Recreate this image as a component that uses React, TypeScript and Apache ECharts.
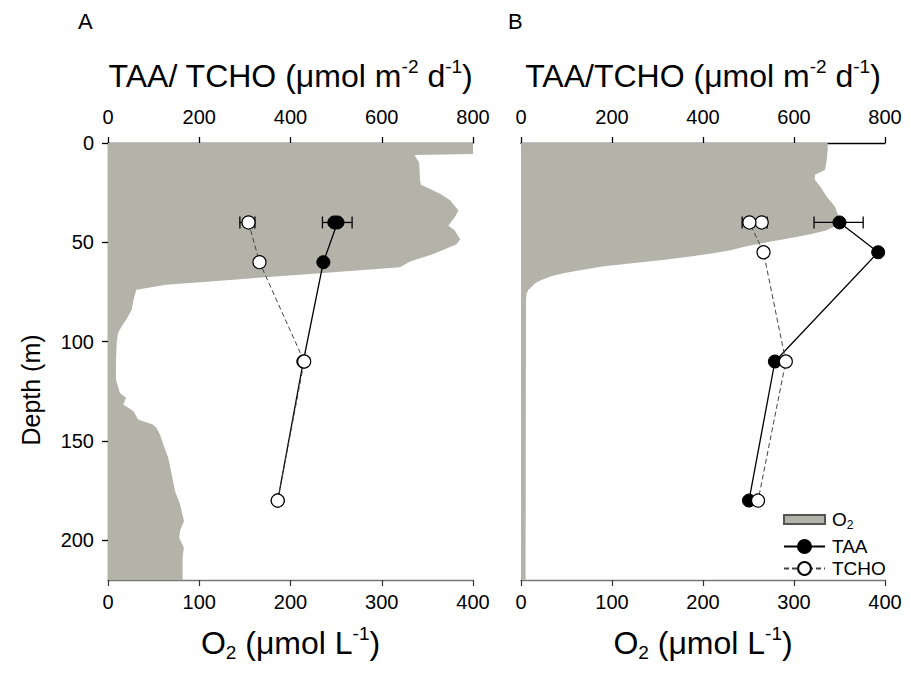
import React, { useEffect, useRef } from 'react';
import * as echarts from 'echarts';

// ---------- data ----------
const depthTicks = [0, 50, 100, 150, 200];
const fluxTicks = [0, 200, 400, 600, 800];
const o2Ticks = [0, 100, 200, 300, 400];

// O2 profile, panel A (depth m, O2 umol/L)
const o2DepthA = [0, 5.5, 6, 10, 19, 21, 25.5, 28.8, 34, 37.4, 41.5, 44, 48.4, 51, 56, 59.6, 62.6, 66.3, 68.8, 71.4, 73.9, 78.9, 83.9, 88.9, 92.3, 95.6, 100.7, 110.7, 119.1, 125.8, 128.3, 131.7, 135, 139.2, 141.7, 143.4, 146.7, 151.8, 158.5, 166.8, 175.2, 181.9, 190.3, 195.3, 198.7, 203.7, 208.7, 220];
const o2ValueA = [400, 400, 336, 341, 342, 343, 364, 375, 384, 380, 373, 380, 386, 382, 356, 331, 320, 210, 137, 64, 31, 28, 26, 20, 15, 11, 9.5, 8.7, 8.7, 13, 19.7, 16.8, 28, 33, 49, 53, 57, 60.6, 66, 69.8, 73.4, 78.9, 83.3, 78.9, 78, 83, 81.8, 81.8];

// O2 profile, panel B
const o2DepthB = [0, 3.5, 8.5, 13.6, 16, 18.6, 22, 27, 32, 37, 42, 44, 46, 48, 50, 52, 54, 55.4, 57, 58.8, 60.5, 62.2, 64, 65.5, 67, 68.8, 70.5, 72.2, 74, 76, 80, 220];
const o2ValueB = [337, 337, 336, 334, 323, 323, 329, 336, 345, 349, 345, 335, 318, 295, 270, 248, 230, 213, 188, 158, 122, 89, 65, 48, 34, 23, 16, 12, 8, 6, 5.5, 5];

// TAA / TCHO fluxes (umol m-2 d-1)
const taaDepthA = [40, 40, 60, 110, 180];
const taaA = [496, 503, 472, 428, 372];
const tchoDepthA = [40, 60, 110, 180];
const tchoA = [308, 332, 430, 372];

const taaDepthB = [40, 55, 110, 180];
const taaB = [700, 785, 558, 501];
const tchoDepthB = [40, 40, 55, 110, 180];
const tchoB = [529, 502, 533, 582, 521];

// error bars (depth, low, high)
const errDepthA = [40, 40];
const errLowA = [470, 289];
const errHighA = [535, 322];
const errDepthB = [40, 40];
const errLowB = [644, 486];
const errHighB = [752, 541];

// ---------- styles ----------
const FONT = 'Liberation Sans, Arial, sans-serif';
const GRAY = '#b4b3a9';

const nameRich = {
  t: { fontSize: 32, lineHeight: 38, color: '#000', fontFamily: FONT },
  sup: { fontSize: 19, lineHeight: 19, verticalAlign: 'top', color: '#000', fontFamily: FONT },
  sub: { fontSize: 19, lineHeight: 19, verticalAlign: 'bottom', color: '#000', fontFamily: FONT },
};

function profileSeries(name: string, gridIdx: number, depths: number[], vals: number[]) {
  return {
    type: 'custom',
    name,
    xAxisIndex: gridIdx * 2 + 1,
    yAxisIndex: gridIdx,
    clip: true,
    z: 1,
    silent: true,
    itemStyle: { color: GRAY, borderColor: '#555', borderWidth: 1 },
    data: [[0, 0]],
    renderItem: (params: any, api: any) => {
      const pts: number[][] = [];
      pts.push(api.coord([0, depths[0]]));
      for (let i = 0; i < depths.length; i++) pts.push(api.coord([vals[i], depths[i]]));
      pts.push(api.coord([0, depths[depths.length - 1]]));
      return { type: 'polygon', shape: { points: pts }, style: { fill: GRAY, stroke: null } };
    },
  };
}

function errSeries(gridIdx: number, d: number[], lo: number[], hi: number[]) {
  return {
    type: 'custom',
    xAxisIndex: gridIdx * 2,
    yAxisIndex: gridIdx,
    z: 3,
    silent: true,
    encode: { x: [1, 2], y: 0 },
    data: d.map((v, i) => [v, lo[i], hi[i]]),
    renderItem: (params: any, api: any) => {
      const dep = api.value(0);
      const p1 = api.coord([api.value(1), dep]);
      const p2 = api.coord([api.value(2), dep]);
      const h = 6;
      const st = { stroke: '#000', lineWidth: 1.3 };
      return {
        type: 'group',
        children: [
          { type: 'line', shape: { x1: p1[0], y1: p1[1], x2: p2[0], y2: p2[1] }, style: st },
          { type: 'line', shape: { x1: p1[0], y1: p1[1] - h, x2: p1[0], y2: p1[1] + h }, style: st },
          { type: 'line', shape: { x1: p2[0], y1: p2[1] - h, x2: p2[0], y2: p2[1] + h }, style: st },
        ],
      };
    },
  };
}

function taaSeries(gridIdx: number, d: number[], v: number[]) {
  return {
    type: 'line',
    name: 'TAA',
    xAxisIndex: gridIdx * 2,
    yAxisIndex: gridIdx,
    z: 4,
    symbol: 'circle',
    symbolSize: 13,
    lineStyle: { color: '#000', width: 1.3 },
    itemStyle: { color: '#000', borderColor: '#000', borderWidth: 1 },
    data: d.map((dep, i) => [v[i], dep]),
  };
}

function tchoSeries(gridIdx: number, d: number[], v: number[]) {
  return {
    type: 'line',
    name: 'TCHO',
    xAxisIndex: gridIdx * 2,
    yAxisIndex: gridIdx,
    z: 5,
    symbol: 'circle',
    symbolSize: 13,
    lineStyle: { color: '#444', width: 1, type: [5, 3] },
    itemStyle: { color: '#fff', borderColor: '#000', borderWidth: 1.2 },
    data: d.map((dep, i) => [v[i], dep]),
  };
}

function topAxis(gridIndex: number, title: string) {
  return {
    type: 'value',
    gridIndex,
    position: 'top',
    min: 0,
    max: 800,
    interval: 200,
    splitLine: { show: false },
    axisLine: { show: true, lineStyle: { color: '#000', width: 1.3 } },
    axisTick: { show: true, inside: false, length: 6, lineStyle: { color: '#000', width: 1.3 } },
    axisLabel: { fontSize: 20, color: '#000', margin: 16, fontFamily: FONT, customValues: fluxTicks },
    name: title,
    nameLocation: 'middle',
    nameGap: 48,
    nameMoveOverlap: false,
    nameTextStyle: { rich: nameRich },
  };
}

function bottomAxis(gridIndex: number) {
  return {
    type: 'value',
    gridIndex,
    position: 'bottom',
    min: 0,
    max: 400,
    interval: 100,
    splitLine: { show: false },
    axisLine: { show: true, onZero: false, lineStyle: { color: '#777', width: 1.3 } },
    axisTick: { show: true, inside: false, length: 6, lineStyle: { color: '#333', width: 1.2 } },
    axisLabel: { fontSize: 20, color: '#000', margin: 12, fontFamily: FONT, customValues: o2Ticks },
    name: '{t|O}{sub|2}{t| (μmol L}{sup|-1}{t|)}',
    nameLocation: 'middle',
    nameGap: 44,
    nameMoveOverlap: false,
    nameTextStyle: { rich: nameRich },
  };
}

const option: any = {
  animation: false,
  backgroundColor: '#fff',
  textStyle: { fontFamily: FONT },
  grid: [
    { left: 108, top: 143, width: 365, height: 437, outerBoundsMode: 'none', containLabel: false },
    { left: 521, top: 143, width: 364, height: 437, outerBoundsMode: 'none', containLabel: false },
  ],
  xAxis: [
    topAxis(0, '{t|TAA/ TCHO (μmol m}{sup|-2}{t| d}{sup|-1}{t|)}'),
    bottomAxis(0),
    topAxis(1, '{t|TAA/TCHO (μmol m}{sup|-2}{t| d}{sup|-1}{t|)}'),
    bottomAxis(1),
  ],
  yAxis: [
    {
      type: 'value',
      gridIndex: 0,
      inverse: true,
      min: 0,
      max: 220,
      interval: 50,
      splitLine: { show: false },
      axisLine: { show: true, onZero: false, lineStyle: { color: '#000', width: 1.3 } },
      axisTick: { show: true, length: 6, customValues: depthTicks, lineStyle: { color: '#000', width: 1.3 } },
      axisLabel: { fontSize: 20, color: '#000', margin: 14, fontFamily: FONT, customValues: depthTicks },
    },
    {
      type: 'value',
      gridIndex: 1,
      inverse: true,
      min: 0,
      max: 220,
      interval: 50,
      splitLine: { show: false },
      axisLine: { show: false },
      axisTick: { show: false },
      axisLabel: { show: false },
    },
  ],
  legend: [
    {
      data: [{ name: 'O2', icon: 'rect' }],
      left: 778, top: 505, itemWidth: 41, itemHeight: 9,
      selectedMode: false,
      formatter: () => '{a|O}{s|2}',
      textStyle: {
        padding: [0, 0, 0, 2],
        rich: {
          a: { fontSize: 19, lineHeight: 22, color: '#000', fontFamily: FONT },
          s: { fontSize: 12, lineHeight: 12, verticalAlign: 'bottom', color: '#000', fontFamily: FONT },
        },
      },
    },
    {
      data: ['TAA'],
      left: 778, top: 532, itemWidth: 41, itemHeight: 16,
      selectedMode: false,
      textStyle: { fontSize: 19, color: '#000', padding: [0, 0, 0, 2], fontFamily: FONT },
    },
    {
      data: ['TCHO'],
      left: 778, top: 554, itemWidth: 41, itemHeight: 16,
      selectedMode: false,
      textStyle: { fontSize: 19, color: '#000', padding: [0, 0, 0, 2], fontFamily: FONT },
    },
  ],
  graphic: [
    { type: 'text', left: 78, top: 10, style: { text: 'A', fontSize: 22, fill: '#000', fontFamily: FONT } },
    { type: 'text', left: 508, top: 10, style: { text: 'B', fontSize: 22, fill: '#000', fontFamily: FONT } },
    {
      type: 'text', x: 31, y: 390, rotation: Math.PI / 2,
      style: { text: 'Depth (m)', fontSize: 25, fill: '#000', fontFamily: FONT, align: 'center', verticalAlign: 'middle' },
    },
  ],
  series: [
    profileSeries('O2', 0, o2DepthA, o2ValueA),
    profileSeries('O2', 1, o2DepthB, o2ValueB),
    errSeries(0, errDepthA, errLowA, errHighA),
    errSeries(1, errDepthB, errLowB, errHighB),
    taaSeries(0, taaDepthA, taaA),
    tchoSeries(0, tchoDepthA, tchoA),
    taaSeries(1, taaDepthB, taaB),
    tchoSeries(1, tchoDepthB, tchoB),
  ],
};

export default function App() {
  const ref = useRef<HTMLDivElement>(null);
  useEffect(() => {
    if (!ref.current) return;
    const chart = echarts.init(ref.current, undefined, { renderer: 'svg' });
    chart.setOption(option);
    return () => chart.dispose();
  }, []);
  return <div ref={ref} style={{ position: 'absolute', left: 0, top: 0, width: 910, height: 675 }} />;
}
